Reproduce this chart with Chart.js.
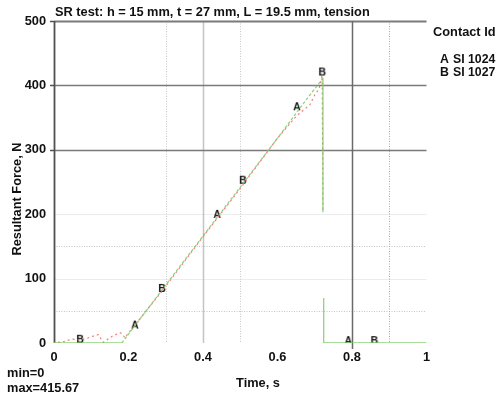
<!DOCTYPE html>
<html>
<head>
<meta charset="utf-8">
<script src="https://cdn.jsdelivr.net/npm/chart.js@4.4.1/dist/chart.umd.min.js"></script>
<style>
  html, body { margin: 0; padding: 0; background: #fff; }
  #wrap { width: 502px; height: 397px; position: relative; }
</style>
</head>
<body>
<div id="wrap"><canvas id="srChart" width="502" height="397"></canvas></div>
<script>
// contact A (green) and B (red), time in s, force in N
const timeA  = [0, 0.182, 0.30, 0.40, 0.50, 0.60, 0.68, 0.722, 0.722, 0.723, 0.724, 0.724, 1.0];
const forceA = [0, 0, 90, 166, 242, 318, 380, 411, 203, null, 70, 0, 0];

const timeB  = [0, 0.025, 0.047, 0.07, 0.088, 0.101, 0.119, 0.132, 0.155, 0.177, 0.184, 0.19,
                0.30, 0.40, 0.50, 0.60, 0.65, 0.687, 0.70, 0.712, 0.72, 0.722];
const forceB = [0, 2, 6, 5, 7, 10, 13, 1, 10, 16, 14, 8,
                88, 165, 240, 318, 352, 370, 385, 395, 415.67, 203];

// letter markers along the curves
const markA = [[0.217, 27], [0.438, 199], [0.652, 366], [0.79, 3]];
const markB = [[0.07, 5], [0.29, 84], [0.507, 252], [0.72, 420], [0.86, 3]];

const xTicks = [0, 0.2, 0.4, 0.6, 0.8, 1];
const yTicks = [0, 100, 200, 300, 400, 500];

const titleText = "SR test: h = 15 mm, t = 27 mm, L = 19.5 mm, tension";
const legendTitle = "Contact Id";
const legendRows = [["A", "SI 1024"], ["B", "SI 1027"]];
const minMax = ["min=0", "max=415.67"];

const FONT = "'Liberation Sans', Arial, sans-serif";
const FSIZE = 12.8;

function pts(xs, ys) {
  return xs.map((x, i) => ({ x: x, y: ys[i] }));
}

function letterIcon(ch) {
  const c = document.createElement("canvas");
  c.width = 12; c.height = 12;
  const g = c.getContext("2d");
  g.font = "bold 10.5px " + FONT;
  g.fillStyle = "#151515";
  g.textAlign = "center";
  g.textBaseline = "middle";
  g.fillText(ch, 6, 6.5);
  return c;
}

// grid drawn by hand so every line can have its own look
const gridPlugin = {
  id: "srGrid",
  beforeDatasetsDraw(chart) {
    const { ctx, chartArea: a, scales: { x, y } } = chart;
    const vLine = (v, color, w, dash, extra) => {
      const px = Math.round(x.getPixelForValue(v)) + 0.5;
      ctx.beginPath();
      ctx.strokeStyle = color; ctx.lineWidth = w; ctx.setLineDash(dash);
      ctx.moveTo(px, a.top); ctx.lineTo(px, a.bottom + (extra || 0)); ctx.stroke();
    };
    const hLine = (v, color, w, dash) => {
      const py = Math.round(y.getPixelForValue(v)) + 0.5;
      ctx.beginPath();
      ctx.strokeStyle = color; ctx.lineWidth = w; ctx.setLineDash(dash);
      ctx.moveTo(a.left, py); ctx.lineTo(a.right, py); ctx.stroke();
    };
    ctx.save();
    hLine(100, "#ececec", 1, []);
    hLine(200, "#ececec", 1, []);
    hLine(50, "#c4c4c4", 1, [1, 1.5]);
    hLine(150, "#c4c4c4", 1, [1, 1.5]);
    vLine(0.3, "#c8c8c8", 1, [1, 1.5]);
    vLine(0.5, "#c8c8c8", 1, [1, 1.5]);
    vLine(0.9, "#a8a8a8", 1, [1, 1.5]);
    vLine(0.4, "#c4c4c4", 1.5, []);
    hLine(300, "#7a7a7a", 1.6, []);
    hLine(400, "#7a7a7a", 1.6, []);
    hLine(500, "#7a7a7a", 2, []);
    vLine(0.8, "#6a6a6a", 1.5, [], 6);
    // left axis
    ctx.setLineDash([]);
    ctx.strokeStyle = "#505050"; ctx.lineWidth = 1.8;
    ctx.beginPath(); ctx.moveTo(a.left + 0.5, a.top); ctx.lineTo(a.left + 0.5, a.bottom); ctx.stroke();
    // small outside ticks
    ctx.lineWidth = 1.5;
    [300, 400, 500].forEach(v => {
      const py = Math.round(y.getPixelForValue(v)) + 0.5;
      ctx.beginPath(); ctx.moveTo(a.left - 4, py); ctx.lineTo(a.left, py); ctx.stroke();
    });
    ctx.restore();
  }
};

const textPlugin = {
  id: "srText",
  afterDraw(chart) {
    const { ctx, chartArea: a } = chart;
    ctx.save();
    ctx.fillStyle = "#111";
    ctx.font = "bold " + FSIZE + "px " + FONT;
    ctx.textBaseline = "middle";
    ctx.textAlign = "left";
    ctx.fillText(titleText, a.left + 1, 12);
    ctx.fillText(legendTitle, 433, 32);
    ctx.font = "bold 12.3px " + FONT;
    legendRows.forEach((r, i) => {
      ctx.fillText(r[0], 440, 60 + i * 13);
      ctx.fillText(r[1], 453, 60 + i * 13);
    });
    ctx.font = "bold " + FSIZE + "px " + FONT;
    ctx.fillText(minMax[0], 7, 373);
    ctx.fillText(minMax[1], 7, 388);
    ctx.textAlign = "center";
    ctx.fillText("Time, s", 258, 383);
    ctx.translate(17, 199);
    ctx.rotate(-Math.PI / 2);
    ctx.fillText("Resultant Force, N", 0, 0);
    ctx.restore();
  }
};

const iconA = letterIcon("A");
const iconB = letterIcon("B");

// straight (flat or vertical) pieces of the green trace are solid
const solidIfStraight = c =>
  (c.p0.parsed.x === c.p1.parsed.x || c.p0.parsed.y === c.p1.parsed.y) ? [] : undefined;

new Chart(document.getElementById("srChart"), {
  type: "line",
  data: {
    datasets: [
      {
        label: "A",
        data: pts(timeA, forceA),
        borderColor: "rgba(120,205,100,0.85)",
        borderWidth: 1.3,
        borderDash: [3, 2],
        pointRadius: 0,
        spanGaps: false,
        tension: 0,
        segment: { borderDash: solidIfStraight }
      },
      {
        label: "B",
        data: pts(timeB, forceB),
        borderColor: "rgba(240,100,100,0.85)",
        borderWidth: 1.2,
        borderDash: [2, 3],
        borderDashOffset: 1,
        pointRadius: 0,
        tension: 0
      },
      {
        label: "markA",
        data: markA.map(p => ({ x: p[0], y: p[1] })),
        showLine: false,
        pointStyle: iconA,
        pointRadius: 6
      },
      {
        label: "markB",
        data: markB.map(p => ({ x: p[0], y: p[1] })),
        showLine: false,
        pointStyle: iconB,
        pointRadius: 6
      }
    ]
  },
  options: {
    responsive: false,
    animation: false,
    events: [],
    layout: { padding: { top: 21, right: 75.5, left: 0, bottom: 0 } },
    plugins: { legend: { display: false }, tooltip: { enabled: false } },
    scales: {
      x: {
        type: "linear",
        min: 0, max: 1,
        afterFit: s => { s.height = 54; },
        afterBuildTicks: s => { s.ticks = xTicks.map(v => ({ value: v })); },
        grid: { display: false, drawTicks: false },
        border: { display: false },
        ticks: {
          padding: 7,
          color: "#111",
          maxRotation: 0,
          font: { family: FONT, size: FSIZE, weight: "bold" },
          callback: v => String(+v.toFixed(1))
        }
      },
      y: {
        type: "linear",
        min: 0, max: 500,
        afterFit: s => { s.width = 54; },
        afterBuildTicks: s => { s.ticks = yTicks.map(v => ({ value: v })); },
        grid: { display: false, drawTicks: false },
        border: { display: false },
        ticks: {
          padding: 8,
          color: "#111",
          font: { family: FONT, size: FSIZE, weight: "bold" }
        }
      }
    }
  },
  plugins: [gridPlugin, textPlugin]
});
</script>
</body>
</html>
